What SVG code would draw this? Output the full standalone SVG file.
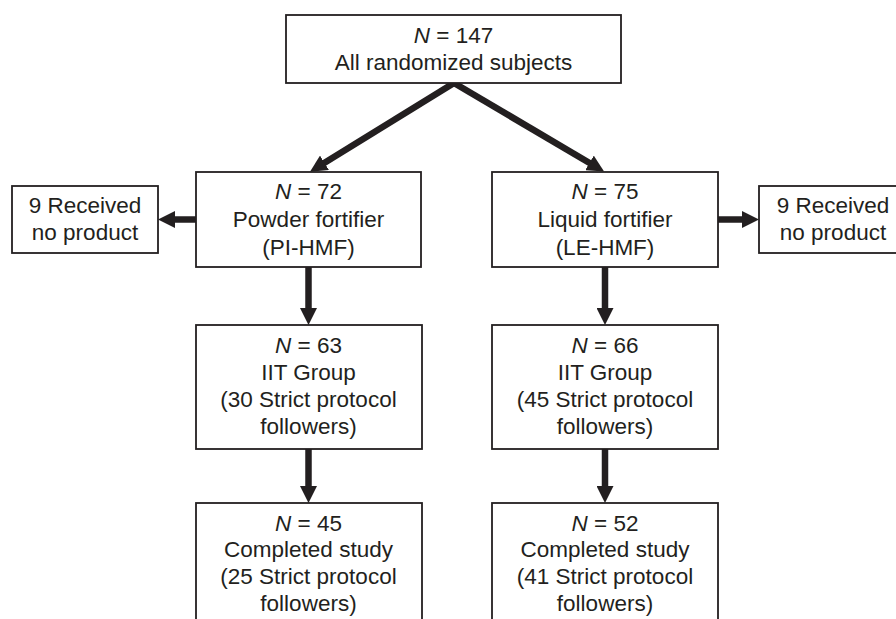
<svg xmlns="http://www.w3.org/2000/svg" width="896" height="619" viewBox="0 0 896 619">
<style>
.box{fill:#fff;stroke:#231f20;stroke-width:1.8}
text{font-family:"Liberation Sans",Arial,sans-serif;font-size:22.5px;fill:#231f20;text-anchor:middle}
.i{font-style:italic}
.c{stroke:#231f20;stroke-width:6.5;fill:none;marker-end:url(#ah)}
</style>
<defs>
<marker id="ah" markerUnits="userSpaceOnUse" markerWidth="17" markerHeight="17" refX="7" refY="8.5" orient="auto" viewBox="0 0 17 17">
<path d="M0,0 L17,8.5 L0,17 Z" fill="#231f20"/>
</marker>
</defs>
<rect width="896" height="619" fill="#fff"/>
<g id="connectors">
<line class="c" x1="454" y1="83" x2="318.5" y2="166.5"/>
<line class="c" x1="454" y1="83" x2="595.5" y2="166.5"/>
<line class="c" x1="196" y1="219.5" x2="168" y2="219.5"/>
<line class="c" x1="718" y1="219.5" x2="749" y2="219.5"/>
<line class="c" x1="308.5" y1="267" x2="308.5" y2="315"/>
<line class="c" x1="605" y1="267" x2="605" y2="315"/>
<line class="c" x1="308.5" y1="449" x2="308.5" y2="493"/>
<line class="c" x1="605" y1="449" x2="605" y2="493"/>
</g>
<g id="n_all">
<rect class="box" x="286" y="15" width="335" height="68"/>
<text x="453.5" y="43"><tspan class="i">N</tspan> = 147</text>
<text x="453.5" y="70">All randomized subjects</text>
</g>
<g id="n_powder">
<rect class="box" x="196" y="172" width="225" height="95"/>
<text x="308.5" y="199"><tspan class="i">N</tspan> = 72</text>
<text x="308.5" y="227">Powder fortifier</text>
<text x="308.5" y="255">(PI-HMF)</text>
</g>
<g id="n_liquid">
<rect class="box" x="492" y="172" width="226" height="95"/>
<text x="605" y="199"><tspan class="i">N</tspan> = 75</text>
<text x="605" y="227">Liquid fortifier</text>
<text x="605" y="255">(LE-HMF)</text>
</g>
<g id="n_noprod_left">
<rect class="box" x="12" y="186" width="146" height="67"/>
<text x="85" y="213">9 Received</text>
<text x="85" y="240">no product</text>
</g>
<g id="n_noprod_right">
<rect class="box" x="759" y="186" width="147" height="67"/>
<text x="833" y="213">9 Received</text>
<text x="833" y="240">no product</text>
</g>
<g id="n_iit_left">
<rect class="box" x="196" y="325" width="226" height="124"/>
<text x="308.5" y="353"><tspan class="i">N</tspan> = 63</text>
<text x="308.5" y="380">IIT Group</text>
<text x="308.5" y="407">(30 Strict protocol</text>
<text x="308.5" y="434">followers)</text>
</g>
<g id="n_iit_right">
<rect class="box" x="492" y="325" width="226" height="124"/>
<text x="605" y="353"><tspan class="i">N</tspan> = 66</text>
<text x="605" y="380">IIT Group</text>
<text x="605" y="407">(45 Strict protocol</text>
<text x="605" y="434">followers)</text>
</g>
<g id="n_comp_left">
<rect class="box" x="196" y="503" width="226" height="130"/>
<text x="308.5" y="531"><tspan class="i">N</tspan> = 45</text>
<text x="308.5" y="557">Completed study</text>
<text x="308.5" y="584">(25 Strict protocol</text>
<text x="308.5" y="611">followers)</text>
</g>
<g id="n_comp_right">
<rect class="box" x="492" y="503" width="226" height="130"/>
<text x="605" y="531"><tspan class="i">N</tspan> = 52</text>
<text x="605" y="557">Completed study</text>
<text x="605" y="584">(41 Strict protocol</text>
<text x="605" y="611">followers)</text>
</g>
</svg>
